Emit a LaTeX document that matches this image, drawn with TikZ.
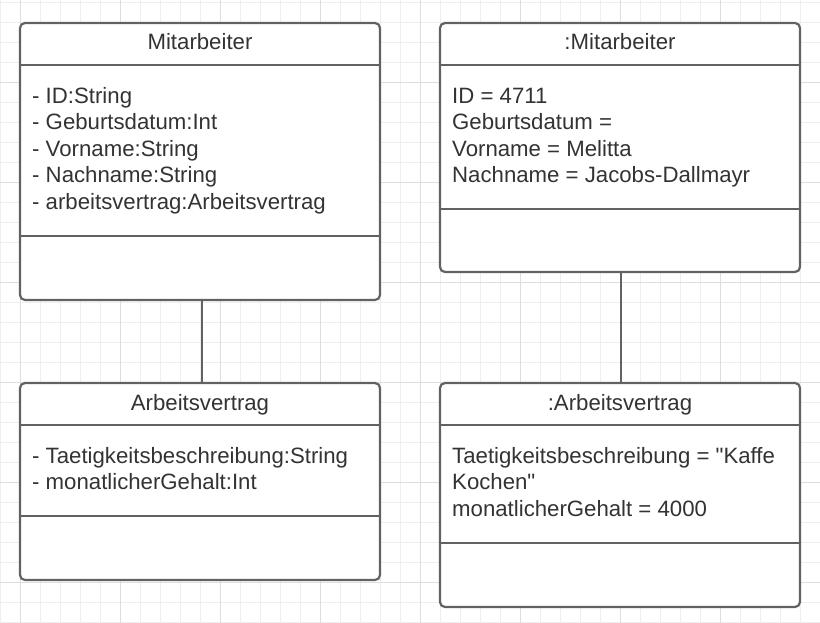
\documentclass[tikz,border=0pt]{standalone}
\usepackage{fontspec}
\setmainfont{Liberation Sans}[Ligatures=TeXOff]
\definecolor{linegray}{HTML}{626262}
\definecolor{txt}{HTML}{333333}
\definecolor{gridminor}{HTML}{EEEEEE}
\definecolor{gridmajor}{HTML}{DEDEDE}
\begin{document}
\begin{tikzpicture}[x=1pt,y=-1pt,
  cls/.style={draw=linegray, line width=2.2pt, rounded corners=5pt, fill=white,
    minimum width=360pt, inner sep=0pt, outer sep=0pt},
  sepline/.style={draw=linegray, line width=2.2pt},
  conn/.style={draw=linegray, line width=2.2pt},
  title/.style={anchor=base, font=\fontsize{22.2}{26.5}\selectfont, text=txt, inner sep=0pt},
  attr/.style={anchor=base west, font=\fontsize{22.2}{26.5}\selectfont, text=txt, inner sep=0pt},
  gmin/.style={draw=gridminor, line width=0.8pt},
  gmaj/.style={draw=gridmajor, line width=0.9pt}]
\useasboundingbox (0,0) rectangle (820,623);
\fill[white] (0,0) rectangle (820,623);
% grid
\foreach \x in {0,20,...,820} \draw[gmin] (\x,0) -- (\x,623);
\foreach \y in {2.5,22.5,...,622.5} \draw[gmin] (0,\y) -- (820,\y);
\foreach \x in {20,120,...,720} \draw[gmaj] (\x,0) -- (\x,623);
\foreach \y in {82.5,182.5,...,582.5} \draw[gmaj] (0,\y) -- (820,\y);

% class boxes
\node[cls, minimum height=277pt] (m) at (200,161.5) {};
\node[cls, minimum height=249pt] (om) at (620,147.5) {};
\node[cls, minimum height=197pt] (a) at (200,481.5) {};
\node[cls, minimum height=224pt] (oa) at (620,495) {};

% separators
\draw[sepline] (m.west |- 0,65) -- (m.east |- 0,65);
\draw[sepline] (m.west |- 0,236) -- (m.east |- 0,236);
\draw[sepline] (om.west |- 0,65) -- (om.east |- 0,65);
\draw[sepline] (om.west |- 0,209) -- (om.east |- 0,209);
\draw[sepline] (a.west |- 0,425) -- (a.east |- 0,425);
\draw[sepline] (a.west |- 0,516) -- (a.east |- 0,516);
\draw[sepline] (oa.west |- 0,425) -- (oa.east |- 0,425);
\draw[sepline] (oa.west |- 0,543) -- (oa.east |- 0,543);

% connectors
\draw[conn] ([xshift=2pt]m.south) -- ([xshift=2pt]a.north);
\draw[conn] ([xshift=1pt]om.south) -- ([xshift=1pt]oa.north);

% titles
\node[title] (tm) at (200,50) {Mitarbeiter};
\node[title] (tom) at (620,50) {:Mitarbeiter};
\node[title] (ta) at (200,410) {Arbeitsvertrag};
\node[title] (toa) at (620,410) {:Arbeitsvertrag};

% attributes Mitarbeiter
\node[attr] (m1) at (32,103.5) {- ID:String};
\node[attr] (m2) at (32,130) {- Geburtsdatum:Int};
\node[attr] (m3) at (32,156.5) {- Vorname:String};
\node[attr] (m4) at (32,183) {- Nachname:String};
\node[attr] (m5) at (32,209.5) {- arbeitsvertrag:Arbeitsvertrag};

% attributes :Mitarbeiter
\node[attr] (om1) at (452,103.5) {ID = 4711};
\node[attr] (om2) at (452,130) {Geburtsdatum =};
\node[attr] (om3) at (452,156.5) {Vorname = Melitta};
\node[attr] (om4) at (452,183) {Nachname = Jacobs-Dallmayr};

% attributes Arbeitsvertrag
\node[attr] (a1) at (32,463) {- Taetigkeitsbeschreibung:String};
\node[attr] (a2) at (32,489.5) {- monatlicherGehalt:Int};

% attributes :Arbeitsvertrag
\node[attr] (oa1) at (452,463) {Taetigkeitsbeschreibung = "Kaffe};
\node[attr] (oa2) at (452,489.5) {Kochen"};
\node[attr] (oa3) at (452,516) {monatlicherGehalt = 4000};
\end{tikzpicture}
\end{document}
